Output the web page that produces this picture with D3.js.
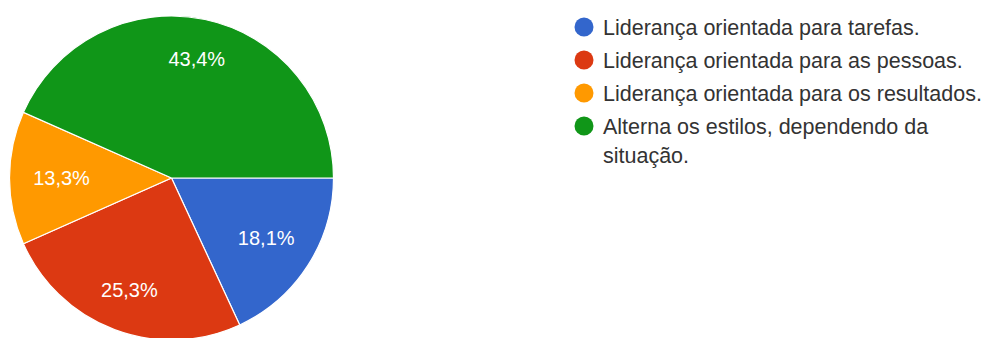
<!DOCTYPE html>
<html>
<head>
<meta charset="utf-8">
<script src="https://cdn.jsdelivr.net/npm/d3@7"></script>
<style>
  html, body { margin: 0; padding: 0; background: #fff; }
  svg { display: block; font-family: "Liberation Sans", Arial, sans-serif; }
</style>
</head>
<body>
<svg id="chart" width="988" height="338"></svg>
<script>
// Survey answers: preferred leadership style
const categories = [
  "Liderança orientada para tarefas.",
  "Liderança orientada para as pessoas.",
  "Liderança orientada para os resultados.",
  "Alterna os estilos, dependendo da situação."
];
const values = [18.1, 25.3, 13.3, 43.4];
const colors = ["#3366cc", "#dc3912", "#ff9900", "#109618"];

const svg = d3.select("#chart");
const cx = 171.5, cy = 178, radius = 162;

// Slices run clockwise starting from 3 o'clock
const pie = d3.pie()
  .value(d => d)
  .sort(null)
  .startAngle(Math.PI / 2)
  .endAngle(Math.PI / 2 + 2 * Math.PI);

const arcs = pie(values);
const arc = d3.arc().innerRadius(0).outerRadius(radius);

const g = svg.append("g").attr("transform", `translate(${cx},${cy})`);

g.selectAll("path.slice")
  .data(arcs)
  .join("path")
  .attr("class", "slice")
  .attr("d", arc)
  .attr("fill", (d, i) => colors[i])
  .attr("stroke", "#fff")
  .attr("stroke-width", 1.2);

// Percentage labels: pulled a little further in where the text runs across the radius
const fmt = v => d3.format(".1f")(v).replace(".", ",") + "%";
g.selectAll("text.pct")
  .data(arcs)
  .join("text")
  .attr("class", "pct")
  .each(function (d) {
    const a = (d.startAngle + d.endAngle) / 2;
    const rho = 125 - 15 * Math.abs(Math.sin(a));
    d3.select(this)
      .attr("x", rho * Math.sin(a))
      .attr("y", -rho * Math.cos(a) + 7);
  })
  .attr("text-anchor", "middle")
  .attr("font-size", 20)
  .attr("fill", "#fff")
  .text(d => fmt(d.data));

// Legend
const legendX = 584, legendY0 = 27, legendStep = 33, lineH = 29, maxW = 385;
const legend = svg.append("g");
categories.forEach((label, i) => {
  const y = legendY0 + i * legendStep;
  legend.append("circle")
    .attr("cx", legendX)
    .attr("cy", y)
    .attr("r", 9.5)
    .attr("fill", colors[i]);
  const text = legend.append("text")
    .attr("x", legendX + 19)
    .attr("y", y + 7.8)
    .attr("font-size", 21.5)
    .attr("fill", "#333");
  // word-wrap into lines no wider than maxW
  const words = label.split(" ");
  let line = [];
  let tspan = text.append("tspan").attr("x", legendX + 19);
  let lineNo = 0;
  words.forEach(w => {
    line.push(w);
    tspan.text(line.join(" "));
    if (tspan.node().getComputedTextLength() > maxW && line.length > 1) {
      line.pop();
      tspan.text(line.join(" "));
      line = [w];
      lineNo++;
      tspan = text.append("tspan")
        .attr("x", legendX + 19)
        .attr("dy", lineH)
        .text(w);
    }
  });
});
</script>
</body>
</html>
